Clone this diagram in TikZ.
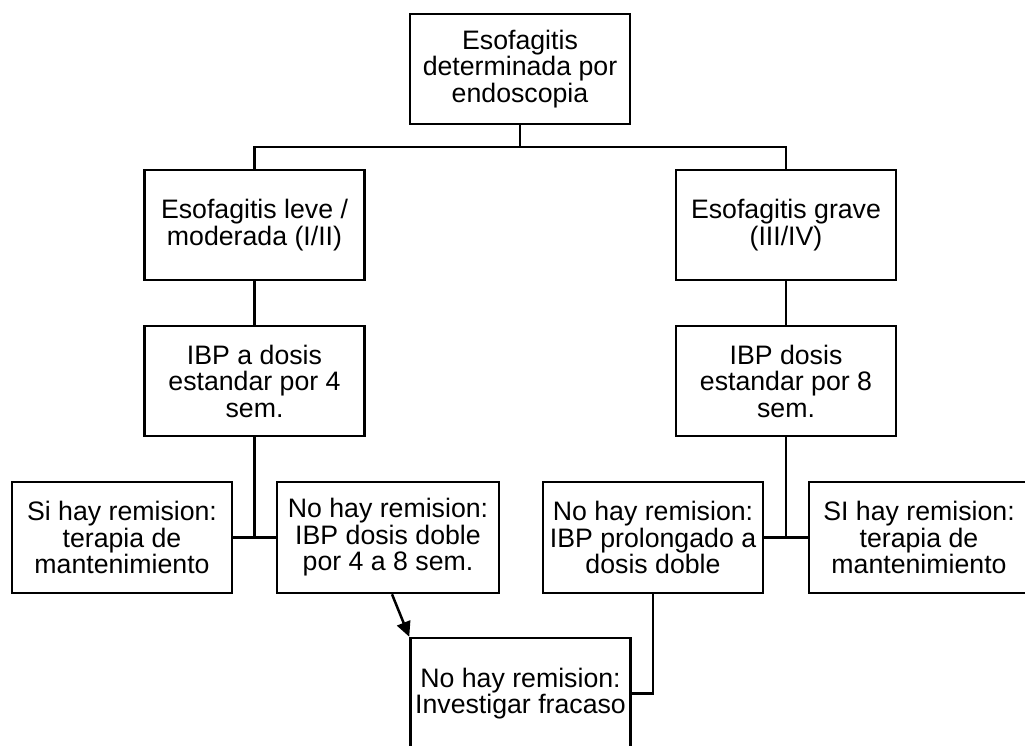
\documentclass[tikz,border=0pt]{standalone}
\usepackage{fontspec}
\setmainfont{Liberation Sans}
\usetikzlibrary{arrows.meta}

\begin{document}
\begin{tikzpicture}[x=1pt,y=-1pt,>={Triangle[length=15pt,width=14pt]},line width=2.5pt,
  caja/.style={draw,rectangle,minimum width=220pt,minimum height=110pt,align=center,inner sep=0pt,font=\fontsize{26.7}{26.5}\selectfont}]
\useasboundingbox (0,0) rectangle (1025,745);
\clip (0,0) rectangle (1025,745);
\node[caja] (endo) at (520,69) {Esofagitis\\determinada por\\endoscopia};
\node[caja] (leve) at (254.5,225) {Esofagitis leve /\\moderada (I/II)};
\node[caja] (grave) at (786,225) {Esofagitis grave\\(III/IV)};
\node[caja] (ibpcuatro) at (254.5,381) {IBP a dosis\\estandar por 4\\sem.};
\node[caja] (ibpocho) at (786,381) {IBP dosis\\estandar por 8\\sem.};
\node[caja,minimum height=111pt] (siA) at (122,537.5) {Si hay remision:\\terapia de\\mantenimiento};
\node[caja,minimum height=111pt,minimum width=222pt] (noA) at (388,537.5) {No hay remision:\\IBP dosis doble\\por 4 a 8 sem.};
\node[caja,minimum height=111pt] (noB) at (653,537.5) {No hay remision:\\IBP prolongado a\\dosis doble};
\node[caja,minimum height=111pt] (siB) at (919,537.5) {SI hay remision:\\terapia de\\mantenimiento};
\node[caja,minimum height=111pt] (fracaso) at (520.5,693.5) {No hay remision:\\Investigar fracaso};
\coordinate (j0) at (520,147);
\draw (endo) -- (j0);
\draw (leve.north) |- (j0) -| (grave.north);
\draw (leve) -- (ibpcuatro);
\draw (grave) -- (ibpocho);
\draw (ibpcuatro.south) -- (ibpcuatro.south |- siA.east);
\draw (siA) -- (noA);
\draw (ibpocho.south) -- (ibpocho.south |- noB.east);
\draw (noB) -- (siB);
\draw[->] ([xshift=4pt]noA.south) -- (fracaso.north west);
\draw (noB.south) |- (fracaso.east);
\end{tikzpicture}
\end{document}
